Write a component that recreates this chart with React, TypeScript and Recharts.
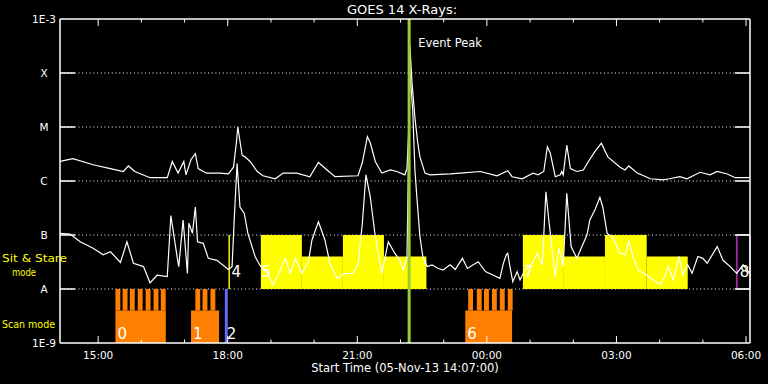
import React from 'react';
import {
  ComposedChart,
  Line,
  XAxis,
  YAxis,
  CartesianGrid,
  ReferenceArea,
  ReferenceLine,
} from 'recharts';

type Sample = [string, number];

// GOES 14 long channel (1-8 A), W/m^2
const longChannel: Sample[] = [
  ['14:07', 2.3e-6], ['14:25', 2.6e-6], ['14:53', 2.0e-6], ['15:17', 1.7e-6], ['15:35', 1.5e-6],
  ['15:42', 1.9e-6], ['15:51', 1.5e-6], ['16:12', 1.15e-6], ['16:36', 1.15e-6], ['16:43', 2.3e-6],
  ['16:51', 1.4e-6], ['16:59', 2.3e-6], ['17:02', 1.3e-6], ['17:09', 2.5e-6], ['17:15', 3.2e-6],
  ['17:19', 1.7e-6], ['17:26', 1.5e-6], ['17:31', 1.4e-6], ['17:49', 1.4e-6], ['18:01', 1.35e-6],
  ['18:08', 1.8e-6], ['18:12', 5.1e-6], ['18:14', 1.0e-5], ['18:20', 3.0e-6], ['18:24', 2.8e-6],
  ['18:31', 2.3e-6], ['18:41', 1.5e-6], ['18:49', 1.25e-6], ['19:06', 1.1e-6], ['19:17', 1.4e-6],
  ['19:36', 1.4e-6], ['19:54', 1.2e-6], ['20:06', 2.2e-6], ['20:18', 1.6e-6], ['20:29', 1.2e-6],
  ['21:01', 1.25e-6], ['21:07', 2.2e-6], ['21:14', 6.6e-6], ['21:18', 5.1e-6], ['21:25', 2.3e-6],
  ['21:34', 1.4e-6], ['21:46', 1.6e-6], ['21:55', 1.5e-6], ['22:06', 1.3e-6], ['22:09', 1.7e-6],
  ['22:12', 1.35e-5], ['22:13', 3.3e-4], ['22:16', 6.5e-5], ['22:20', 1.5e-5], ['22:24', 5.0e-6],
  ['22:27', 2.8e-6], ['22:34', 1.4e-6], ['22:41', 1.3e-6], ['23:09', 1.35e-6], ['23:23', 1.4e-6],
  ['23:51', 1.5e-6], ['00:14', 1.25e-6], ['00:29', 1.55e-6], ['00:35', 1.2e-6], ['00:49', 1.1e-6],
  ['01:04', 1.4e-6], ['01:11', 1.3e-6], ['01:19', 1.5e-6], ['01:24', 4.3e-6], ['01:28', 3.3e-6],
  ['01:35', 1.2e-6], ['01:42', 1.3e-6], ['01:44', 1.5e-6], ['01:46', 1.3e-6], ['01:51', 4.6e-6],
  ['01:56', 1.7e-6], ['02:05', 1.5e-6], ['02:14', 1.6e-6], ['02:21', 2.3e-6], ['02:30', 3.5e-6],
  ['02:39', 5.0e-6], ['02:48', 2.8e-6], ['03:05', 1.8e-6], ['03:12', 1.6e-6], ['03:17', 1.9e-6],
  ['03:29', 1.4e-6], ['03:47', 1.1e-6], ['04:05', 1.05e-6], ['04:14', 1.1e-6], ['04:28', 1.2e-6],
  ['04:38', 1.1e-6], ['04:56', 1.45e-6], ['05:10', 1.3e-6], ['05:20', 1.5e-6], ['05:34', 1.35e-6],
  ['05:45', 1.15e-6], ['06:05', 1.15e-6],
];

// GOES 14 short channel (0.5-4 A), W/m^2
const shortChannel: Sample[] = [
  ['14:07', 1.07e-7], ['14:21', 1.04e-7], ['14:35', 7.5e-8], ['14:53', 5.7e-8], ['15:07', 4.3e-8],
  ['15:17', 4.9e-8], ['15:31', 3.1e-8], ['15:40', 7.5e-8], ['15:49', 3.0e-8], ['16:03', 2.6e-8],
  ['16:12', 1.3e-8], ['16:22', 1.8e-8], ['16:36', 1.7e-8], ['16:41', 2.3e-7], ['16:50', 3.7e-8],
  ['16:52', 2.6e-8], ['16:58', 1.9e-7], ['17:04', 1.95e-8], ['17:06', 1.65e-7], ['17:11', 1.07e-7],
  ['17:15', 3.3e-7], ['17:18', 7.5e-8], ['17:26', 7.0e-8], ['17:33', 3.7e-8], ['17:45', 3.4e-8],
  ['18:01', 2.3e-8], ['18:06', 2.6e-8], ['18:09', 1.9e-7], ['18:13', 2.1e-6], ['18:17', 3.3e-7],
  ['18:23', 2.5e-7], ['18:28', 1.07e-7], ['18:38', 4.0e-8], ['18:45', 2.7e-8], ['18:55', 1.95e-8],
  ['19:03', 1.2e-8], ['19:13', 2.25e-8], ['19:20', 3.7e-8], ['19:27', 1.95e-8], ['19:34', 3.7e-8],
  ['19:43', 1.95e-8], ['19:52', 3.2e-8], ['19:57', 8.1e-8], ['20:06', 1.76e-7], ['20:15', 8.1e-8],
  ['20:22', 3.0e-8], ['20:32', 1.58e-8], ['20:43', 1.95e-8], ['20:54', 1.95e-8], ['21:01', 2.8e-8],
  ['21:07', 1.65e-7], ['21:12', 1.3e-6], ['21:18', 5.1e-7], ['21:25', 9.3e-8], ['21:34', 1.95e-8],
  ['21:43', 7.5e-8], ['21:52', 4.6e-8], ['21:59', 3.4e-8], ['22:04', 2.25e-8], ['22:09', 4.0e-8],
  ['22:11', 2.0e-6], ['22:13', 1.1e-4], ['22:17', 2.0e-5], ['22:20', 1.6e-6], ['22:23', 4.5e-7],
  ['22:27', 9.3e-8], ['22:31', 4.0e-8], ['22:37', 2.6e-8], ['22:44', 2.8e-8], ['22:51', 2.45e-8],
  ['22:59', 2.25e-8], ['23:09', 2.8e-8], ['23:16', 2.3e-8], ['23:26', 3.7e-8], ['23:33', 2.4e-8],
  ['23:41', 2.8e-8], ['23:48', 3.2e-8], ['23:58', 2.1e-8], ['00:09', 1.8e-8], ['00:18', 1.58e-8],
  ['00:23', 3.0e-8], ['00:27', 4.3e-8], ['00:29', 4.6e-8], ['00:32', 2.6e-8], ['00:36', 1.36e-8],
  ['00:42', 2.1e-8], ['00:46', 1.47e-8], ['00:53', 2.25e-8], ['01:03', 3.0e-8], ['01:10', 4.6e-8],
  ['01:17', 2.8e-8], ['01:22', 6.3e-7], ['01:26', 1.9e-7], ['01:35', 1.7e-8], ['01:40', 5.7e-8],
  ['01:46', 2.6e-8], ['01:51', 5.9e-7], ['01:57', 6.1e-8], ['02:05', 3.7e-8], ['02:12', 6.1e-8],
  ['02:19', 1.0e-7], ['02:23', 1.9e-7], ['02:30', 2.9e-7], ['02:37', 5.0e-7], ['02:41', 3.3e-7],
  ['02:47', 1.07e-7], ['02:54', 9.3e-8], ['03:05', 4.6e-8], ['03:12', 4.3e-8], ['03:17', 7.5e-8],
  ['03:23', 4.0e-8], ['03:30', 2.25e-8], ['03:42', 1.8e-8], ['03:51', 1.47e-8], ['04:01', 1.2e-8],
  ['04:07', 1.7e-8], ['04:12', 2.6e-8], ['04:19', 1.47e-8], ['04:27', 4.0e-8], ['04:32', 1.8e-8],
  ['04:39', 2.8e-8], ['04:45', 1.95e-8], ['04:53', 4.0e-8], ['05:00', 3.7e-8], ['05:06', 3.0e-8],
  ['05:20', 6.1e-8], ['05:28', 3.4e-8], ['05:38', 2.6e-8], ['05:47', 1.95e-8], ['05:56', 2.8e-8],
  ['06:05', 1.95e-8],
];

// Sit & Stare blocks (top level of the yellow bar)
const sitStareBlocks = [
  { label: '5', start: '18:46', end: '19:43', top: 1e-7 },
  { label: '', start: '19:43', end: '20:40', top: 4e-8 },
  { label: '', start: '20:40', end: '21:37', top: 1e-7 },
  { label: '', start: '21:37', end: '22:36', top: 4e-8 },
  { label: '7', start: '00:50', end: '01:47', top: 1e-7 },
  { label: '', start: '01:47', end: '02:44', top: 4e-8 },
  { label: '', start: '02:44', end: '03:42', top: 1e-7 },
  { label: '', start: '03:42', end: '04:39', top: 4e-8 },
];
const stareMarker = { label: '4', start: '18:01', end: '18:03' };
const pendingBox = { label: '8', start: '05:47', end: '06:05:30' };

// Scan mode blocks and their comb teeth
const scanBlocks = [
  { label: '0', start: '15:24', end: '16:34' },
  { label: '1', start: '17:09', end: '17:48' },
  { label: '6', start: '23:30', end: '00:35' },
];
const scanTeeth = [
  '15:24', '15:34', '15:44', '15:55', '16:06', '16:17', '16:27',
  '17:15', '17:25', '17:36',
  '23:34', '23:46', '23:56', '00:07', '00:18', '00:29',
];
const toothMinutes = 6.8;
const scanMarker = { label: '2', start: '17:56', end: '18:00' };

const eventPeak = '22:12';
const timeStart = '14:07';
const timeEnd = '06:05:30';

const hourTicks = [15, 16, 17, 18, 19, 20, 21, 22, 23, 24, 25, 26, 27, 28, 29, 30];
const majorTickLabels = ['15:00', '18:00', '21:00', '00:00', '03:00', '06:00'];
const decadeTicks = [1e-9, 1e-8, 1e-7, 1e-6, 1e-5, 1e-4, 1e-3];
const decadeLabels = ['1E-9', 'A', 'B', 'C', 'M', 'X', '1E-3'];

const levelA = 1e-8;
const levelB = 1e-7;
const scanBase = 4e-9;
const fluxMin = 1e-9;
const fluxMax = 1e-3;

const FONT = '"DejaVu Sans", sans-serif';
const WHITE = '#ffffff';
const YELLOW = '#ffff00';
const ORANGE = '#ff8000';

function toHours(s: string): number {
  const parts = s.split(':').map(Number);
  let v = parts[0] + parts[1] / 60 + (parts[2] || 0) / 3600;
  if (v < 12) v += 24;
  return v;
}

const toSeries = (rows: Sample[]) => rows.map(([t, f]) => ({ t: toHours(t), f }));
const longData = toSeries(longChannel);
const shortData = toSeries(shortChannel);

const X0 = toHours(timeStart);
const X1 = toHours(timeEnd);

const BottomTick = (props: any) => {
  const { x, y, payload } = props;
  const v = payload.value as number;
  const major = (v - 15) % 3 === 0;
  return (
    <g>
      <line x1={x} x2={x} y1={y} y2={y - (major ? 7 : 3.5)} stroke={WHITE} strokeWidth={1} />
      {major && (
        <text x={x} y={y + 16} textAnchor="middle" fill={WHITE} stroke="none" fontSize={10.5} fontFamily={FONT}>
          {majorTickLabels[(v - 15) / 3]}
        </text>
      )}
    </g>
  );
};

const TopTick = (props: any) => {
  const { x, y, payload } = props;
  const v = payload.value as number;
  const major = (v - 15) % 3 === 0;
  return <line x1={x} x2={x} y1={y} y2={y + (major ? 7 : 3.5)} stroke={WHITE} strokeWidth={1} />;
};

const LeftTick = (props: any) => {
  const { x, y, payload } = props;
  const e = Math.round(Math.log10(payload.value));
  const inner = e > -9 && e < -3;
  return (
    <g>
      {inner && <line x1={x} x2={x + 15} y1={y} y2={y} stroke={WHITE} strokeWidth={1.5} />}
      <text x={x - 16} y={y + 4} textAnchor="middle" fill={WHITE} stroke="none" fontSize={10.5} fontFamily={FONT}>
        {decadeLabels[e + 9]}
      </text>
    </g>
  );
};

const RightTick = (props: any) => {
  const { x, y, payload } = props;
  const e = Math.round(Math.log10(payload.value));
  const inner = e > -9 && e < -3;
  return inner ? <line x1={x} x2={x - 15} y1={y} y2={y} stroke={WHITE} strokeWidth={1.5} /> : <g />;
};

const BlockLabel = (props: any) => {
  const { viewBox, text, dx, dy } = props;
  if (!viewBox || !text) return null;
  return (
    <text
      x={viewBox.x + dx}
      y={viewBox.y + viewBox.height - dy}
      fill={WHITE}
      stroke="none"
      fontSize={15}
      fontFamily={FONT}
    >
      {text}
    </text>
  );
};

const PeakLabel = (props: any) => {
  const { viewBox } = props;
  if (!viewBox) return null;
  return (
    <text x={viewBox.x + 9} y={viewBox.y + 28} fill={WHITE} stroke="none" fontSize={11.5} fontFamily={FONT}>
      Event Peak
    </text>
  );
};

const BottomTitle = (props: any) => {
  const { viewBox } = props;
  if (!viewBox) return null;
  return (
    <text
      x={viewBox.x + viewBox.width / 2}
      y={viewBox.y + 29}
      textAnchor="middle"
      fill={WHITE}
      stroke="none"
      fontSize={11.5}
      fontFamily={FONT}
    >
      Start Time (05-Nov-13 14:07:00)
    </text>
  );
};

const TopTitle = (props: any) => {
  const { viewBox } = props;
  if (!viewBox) return null;
  return (
    <text
      x={viewBox.x + viewBox.width / 2 - 3}
      y={viewBox.y + 14}
      textAnchor="middle"
      fill={WHITE}
      stroke="none"
      fontSize={13}
      fontFamily={FONT}
    >
      GOES 14 X-Rays:
    </text>
  );
};

export default function App() {
  return (
    <div style={{ position: 'absolute', left: 0, top: 0, width: 768, height: 384, background: '#000' }}>
      <ComposedChart width={768} height={384} margin={{ top: 0, right: 0, bottom: 0, left: 0 }}>
        <XAxis
          xAxisId="b"
          dataKey="t"
          type="number"
          orientation="bottom"
          domain={[X0, X1]}
          allowDataOverflow
          ticks={hourTicks}
          interval={0}
          height={41}
          tickSize={0}
          tickMargin={0}
          tickLine={false}
          axisLine={{ stroke: WHITE, strokeWidth: 1.5 }}
          tick={<BottomTick />}
          label={<BottomTitle />}
        />
        <XAxis
          xAxisId="t"
          dataKey="t"
          type="number"
          orientation="top"
          domain={[X0, X1]}
          allowDataOverflow
          ticks={hourTicks}
          interval={0}
          height={19}
          tickSize={0}
          tickMargin={0}
          tickLine={false}
          axisLine={{ stroke: WHITE, strokeWidth: 1.5 }}
          tick={<TopTick />}
          label={<TopTitle />}
        />
        <YAxis
          yAxisId="l"
          orientation="left"
          scale="log"
          type="number"
          domain={[fluxMin, fluxMax]}
          allowDataOverflow
          ticks={decadeTicks}
          interval={0}
          width={60}
          tickSize={0}
          tickMargin={0}
          tickLine={false}
          axisLine={{ stroke: WHITE, strokeWidth: 1.5 }}
          tick={<LeftTick />}
        />
        <YAxis
          yAxisId="r"
          orientation="right"
          scale="log"
          type="number"
          domain={[fluxMin, fluxMax]}
          allowDataOverflow
          ticks={decadeTicks}
          interval={0}
          width={18}
          tickSize={0}
          tickMargin={0}
          tickLine={false}
          axisLine={{ stroke: WHITE, strokeWidth: 1.5 }}
          tick={<RightTick />}
        />
        <CartesianGrid
          xAxisId="b"
          yAxisId="l"
          vertical={false}
          horizontalValues={decadeTicks.slice(1, -1)}
          stroke={WHITE}
          strokeDasharray="1 2.7"
        />

        {sitStareBlocks.map((b, i) => (
          <ReferenceArea
            key={'ss' + i}
            xAxisId="b"
            yAxisId="l"
            x1={toHours(b.start)}
            x2={toHours(b.end)}
            y1={levelA}
            y2={b.top}
            fill={YELLOW}
            fillOpacity={1}
            stroke="none"
            label={<BlockLabel text={b.label} dx={1} dy={12} />}
          />
        ))}
        <ReferenceArea
          xAxisId="b"
          yAxisId="l"
          x1={toHours(stareMarker.start)}
          x2={toHours(stareMarker.end)}
          y1={levelA}
          y2={levelB}
          fill={YELLOW}
          fillOpacity={1}
          stroke="none"
          label={<BlockLabel text={stareMarker.label} dx={3} dy={12} />}
        />
        <ReferenceArea
          xAxisId="b"
          yAxisId="l"
          x1={toHours(pendingBox.start)}
          x2={toHours(pendingBox.end)}
          y1={levelA}
          y2={levelB}
          fill="#000"
          fillOpacity={0}
          stroke={WHITE}
          strokeWidth={1}
          label={<BlockLabel text={pendingBox.label} dx={3} dy={12} />}
        />
        <ReferenceLine
          xAxisId="b"
          yAxisId="l"
          segment={[
            { x: toHours(pendingBox.start), y: levelA },
            { x: toHours(pendingBox.start), y: levelB },
          ]}
          stroke="#b020b0"
          strokeWidth={1.5}
        />

        {scanTeeth.map((s, i) => (
          <ReferenceArea
            key={'st' + i}
            xAxisId="b"
            yAxisId="l"
            x1={toHours(s)}
            x2={toHours(s) + toothMinutes / 60}
            y1={scanBase}
            y2={levelA}
            fill={ORANGE}
            fillOpacity={1}
            stroke="none"
          />
        ))}
        {scanBlocks.map((b, i) => (
          <ReferenceArea
            key={'sb' + i}
            xAxisId="b"
            yAxisId="l"
            x1={toHours(b.start)}
            x2={toHours(b.end)}
            y1={fluxMin}
            y2={scanBase}
            fill={ORANGE}
            fillOpacity={1}
            stroke="none"
            label={<BlockLabel text={b.label} dx={2} dy={4} />}
          />
        ))}
        <ReferenceArea
          xAxisId="b"
          yAxisId="l"
          x1={toHours(scanMarker.start)}
          x2={toHours(scanMarker.end)}
          y1={fluxMin}
          y2={levelA}
          fill="#6a6aff"
          fillOpacity={1}
          stroke="none"
          label={<BlockLabel text={scanMarker.label} dx={2} dy={4} />}
        />

        <Line
          xAxisId="b"
          yAxisId="l"
          data={longData}
          dataKey="f"
          type="linear"
          stroke={WHITE}
          strokeWidth={1.2}
          dot={false}
          isAnimationActive={false}
        />
        <Line
          xAxisId="b"
          yAxisId="l"
          data={shortData}
          dataKey="f"
          type="linear"
          stroke={WHITE}
          strokeWidth={1.2}
          dot={false}
          isAnimationActive={false}
        />

        <ReferenceLine
          xAxisId="b"
          yAxisId="l"
          x={toHours(eventPeak)}
          stroke="#9acd32"
          strokeWidth={3}
          label={<PeakLabel />}
        />

        <text x={2} y={262} fill={YELLOW} fontSize={11} fontFamily={FONT} textLength={65} lengthAdjust="spacingAndGlyphs">
          Sit &amp; Stare
        </text>
        <text x={12} y={276} fill={YELLOW} fontSize={11} fontFamily={FONT} textLength={24} lengthAdjust="spacingAndGlyphs">
          mode
        </text>
        <text x={2} y={328} fill={YELLOW} fontSize={11} fontFamily={FONT} textLength={53} lengthAdjust="spacingAndGlyphs">
          Scan mode
        </text>
      </ComposedChart>
    </div>
  );
}
